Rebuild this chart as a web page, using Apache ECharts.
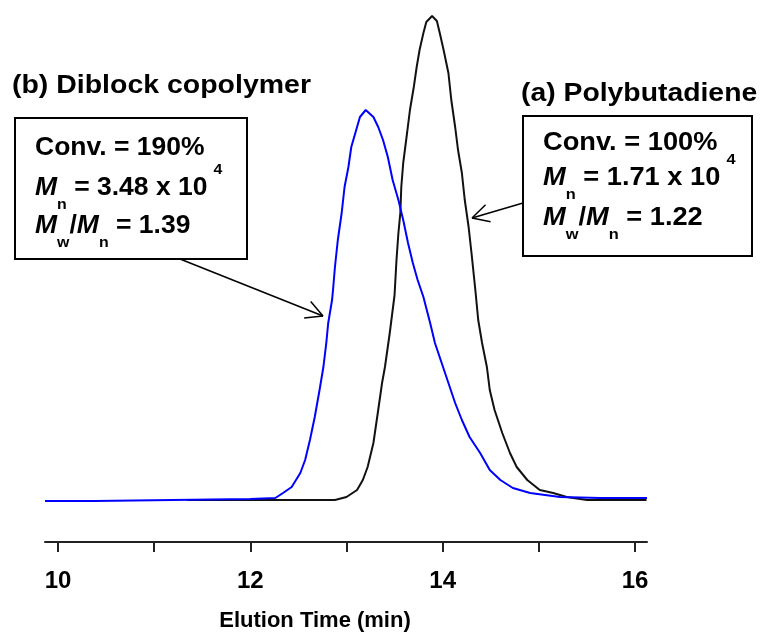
<!DOCTYPE html>
<html>
<head>
<meta charset="utf-8">
<script src="https://cdn.jsdelivr.net/npm/echarts@6/dist/echarts.min.js"></script>
<style>
html,body{margin:0;padding:0;background:#fff;}
#chart{width:763px;height:640px;}
</style>
</head>
<body>
<div id="chart"></div>
<script>
// ---- data (elution time in min, detector response in arbitrary units) ----
const polybutadiene = [
  [11.34,0],[12.88,0],[13.00,3],[13.11,10],[13.17,20],[13.22,33],[13.28,57],[13.33,90],
  [13.37,117],[13.40,133],[13.45,167],[13.50,205],[13.52,240],[13.54,267],[13.56,287],
  [13.57,313],[13.59,337],[13.63,367],[13.66,390],[13.70,413],[13.73,433],[13.76,450],
  [13.80,467],[13.83,478],[13.89,484],[13.94,479],[13.97,467],[14.01,450],[14.06,427],
  [14.09,400],[14.13,373],[14.16,350],[14.20,327],[14.23,300],[14.27,273],[14.30,247],
  [14.34,210],[14.37,180],[14.41,157],[14.46,133],[14.49,110],[14.54,90],[14.62,67],
  [14.70,47],[14.77,33],[14.88,20],[15.01,10],[15.15,7],[15.29,3],[15.50,0],[16.12,0]
];
const diblockCopolymer = [
  [9.865,-1],[10.38,-1],[10.40,1],[12.00,1],[12.26,2],[12.34,7],[12.43,13],[12.52,27],
  [12.57,40],[12.62,60],[12.67,83],[12.72,110],[12.76,133],[12.79,157],[12.81,177],
  [12.85,200],[12.86,210],[12.88,233],[12.91,260],[12.95,287],[12.98,313],[13.02,333],
  [13.05,353],[13.11,373],[13.14,383],[13.20,390],[13.28,383],[13.33,373],[13.38,360],
  [13.43,343],[13.48,320],[13.54,300],[13.59,280],[13.64,257],[13.69,237],[13.74,220],
  [13.80,203],[13.87,177],[13.92,157],[13.99,137],[14.06,117],[14.13,97],[14.20,80],
  [14.28,63],[14.39,47],[14.49,30],[14.60,20],[14.73,12],[14.91,7],[15.22,3],[15.64,2],[16.125,2]
];
const xTickValues = [10,11,12,13,14,15,16];
const xLabelValues = [10,12,14,16];
const xName = 'Elution Time (min)';
const titleA = '(a) Polybutadiene';
const titleB = '(b) Diblock copolymer';
const boxA = [
  [{t:'Conv. = 100%'}],
  [{t:'M',i:1},{t:'n',sub:1},{t:' = 1.71 x 10'},{t:'4',sup:1}],
  [{t:'M',i:1},{t:'w',sub:1},{t:'/'},{t:'M',i:1},{t:'n',sub:1},{t:' = 1.22'}]
];
const boxB = [
  [{t:'Conv. = 190%'}],
  [{t:'M',i:1},{t:'n',sub:1},{t:' = 3.48 x 10'},{t:'4',sup:1}],
  [{t:'M',i:1},{t:'w',sub:1},{t:'/'},{t:'M',i:1},{t:'n',sub:1},{t:' = 1.39'}]
];

// ---- annotation helpers ----
const FAMILY = '"Liberation Sans", Arial, sans-serif';
const ctx = document.createElement('canvas').getContext('2d');
function measure(txt, size, italic){
  ctx.font = (italic?'italic ':'') + 'bold ' + size + 'px ' + FAMILY;
  return ctx.measureText(txt).width;
}
function textEl(txt, x, baseline, size, italic, sx){
  return {
    type:'text', x:x, y: baseline - 0.3465*size, scaleX: sx || 1, silent:true,
    style:{text:txt, fill:'#000', fontFamily:FAMILY, fontWeight:'bold',
      fontStyle: italic?'italic':'normal', fontSize:size, align:'left', verticalAlign:'middle'}
  };
}
function richLine(parts, x, baseline, size, subSize, sx){
  const els = [];
  let cx = x;
  parts.forEach(p => {
    if (p.sub){
      els.push(textEl(p.t, cx, baseline + 13, subSize, false, sx));
      cx += measure(p.t, subSize, false) * sx;
    } else if (p.sup){
      cx += 6;
      els.push(textEl(p.t, cx, baseline - 22, subSize, false, sx));
      cx += measure(p.t, subSize, false) * sx;
    } else {
      els.push(textEl(p.t, cx, baseline, size, !!p.i, sx));
      cx += measure(p.t, size, !!p.i) * sx;
    }
  });
  return els;
}
function arrow(x1,y1,x2,y2){
  const a = Math.atan2(y1-y2, x1-x2), L = 19, h = 28*Math.PI/180;
  const st = {stroke:'#000', lineWidth:1.5};
  return [
    {type:'line', silent:true, shape:{x1:x1,y1:y1,x2:x2,y2:y2}, style:st},
    {type:'line', silent:true, shape:{x1:x2,y1:y2,x2:x2+L*Math.cos(a+h),y2:y2+L*Math.sin(a+h)}, style:st},
    {type:'line', silent:true, shape:{x1:x2,y1:y2,x2:x2+L*Math.cos(a-h),y2:y2+L*Math.sin(a-h)}, style:st}
  ];
}

let graphics = [];
graphics.push({type:'rect', silent:true, shape:{x:15,y:118,width:232,height:141}, style:{fill:'#fff',stroke:'#000',lineWidth:2}});
graphics.push({type:'rect', silent:true, shape:{x:523,y:116,width:229,height:140}, style:{fill:'#fff',stroke:'#000',lineWidth:2}});
graphics.push(textEl(titleB, 12, 95, 26, false, 1.095));
graphics.push(textEl(titleA, 521, 103, 26, false, 1.09));
const bBase = [156.7,196.7,235], aBase = [151.7,186.7,226.7];
boxB.forEach((ln,k)=>{ graphics = graphics.concat(richLine(ln, 35, bBase[k], 25, 15, 1.06)); });
boxA.forEach((ln,k)=>{ graphics = graphics.concat(richLine(ln, 543, aBase[k], 25, 15, 1.09)); });
graphics = graphics.concat(arrow(180,259,323,316));
graphics = graphics.concat(arrow(523,203,472,218));

const chart = echarts.init(document.getElementById('chart'), null, {renderer:'canvas'});
chart.setOption({
  animation:false,
  backgroundColor:'#fff',
  grid:{left:45, right:116, top:16, bottom:98, containLabel:false},
  xAxis:{
    type:'value', min:9.865, max:16.125,
    name:xName, nameLocation:'middle', nameGap:68,
    nameTextStyle:{fontFamily:FAMILY, fontWeight:'bold', fontSize:22, color:'#000', padding:[0,62,0,0]},
    axisLine:{show:true, onZero:false, lineStyle:{color:'#222', width:2}},
    axisTick:{show:true, length:10, customValues:xTickValues, lineStyle:{color:'#222', width:2}},
    axisLabel:{customValues:xLabelValues, margin:27, fontFamily:FAMILY, fontWeight:'bold', fontSize:24, color:'#000'},
    splitLine:{show:false}
  },
  yAxis:{type:'value', min:-42, max:484, show:false},
  series:[
    {name:'Polybutadiene', type:'line', data:polybutadiene, showSymbol:false, smooth:false,
      lineStyle:{color:'#111', width:2}, z:2},
    {name:'Diblock copolymer', type:'line', data:diblockCopolymer, showSymbol:false, smooth:false,
      lineStyle:{color:'#0000ff', width:2}, z:3}
  ],
  graphic:graphics
});
</script>
</body>
</html>
